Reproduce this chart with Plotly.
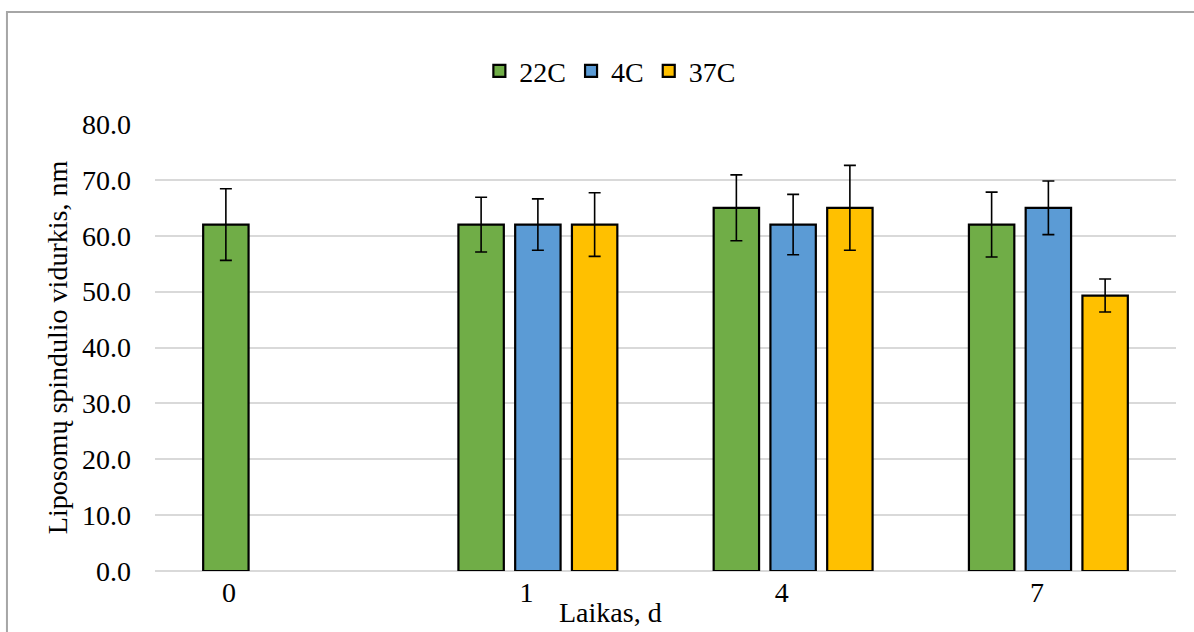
import plotly.graph_objects as go

categories = ["0", "1", "4", "7"]
series_names = ["22C", "4C", "37C"]
values_22C = [62.0, 62.0, 65.0, 62.0]
errors_22C = [6.4, 4.9, 5.9, 5.8]
values_4C = [None, 62.0, 62.0, 65.0]
errors_4C = [None, 4.6, 5.4, 4.8]
values_37C = [None, 62.0, 65.0, 49.3]
errors_37C = [None, 5.7, 7.6, 2.95]

colors = ["#70AD47", "#5B9BD5", "#FFC000"]
FONT = "Liberation Serif"

x_pos = list(range(len(categories)))
# tick label positions (as placed in the original chart)
tick_pos = [-0.21, 0.955, 1.955, 2.955]

fig = go.Figure()
for name, vals, errs, col in zip(series_names,
                                 [values_22C, values_4C, values_37C],
                                 [errors_22C, errors_4C, errors_37C],
                                 colors):
    fig.add_trace(go.Bar(
        x=x_pos, y=vals, name=name,
        marker=dict(color=col, line=dict(color="black", width=2.2)),
        error_y=dict(type="data", array=errs, visible=True,
                     color="black", thickness=1.6, width=6),
    ))

fig.update_layout(
    width=1194, height=632,
    margin=dict(l=155, r=18, t=124, b=61),
    paper_bgcolor="white", plot_bgcolor="white",
    barmode="group", bargap=0.333, bargroupgap=0.2,
    font=dict(family=FONT, size=28, color="black"),
    legend=dict(orientation="h", x=0.446, xanchor="center",
                y=1.174, yanchor="top", font=dict(family=FONT, size=28, color="black"),
                itemwidth=30, tracegroupgap=0),
    xaxis=dict(range=[-0.5, 3.5], tickmode="array", tickvals=tick_pos,
               ticktext=categories, showgrid=False, zeroline=False,
               showline=False, ticks="", tickfont=dict(family=FONT, size=28),
               ticklabelstandoff=2),
    yaxis=dict(range=[0, 80], dtick=10, tickformat=".1f",
               showgrid=True, gridcolor="#D9D9D9", gridwidth=1.5,
               zeroline=True, zerolinecolor="#D9D9D9", zerolinewidth=1.5,
               showline=False, ticks="", tickfont=dict(family=FONT, size=28),
               ticklabelstandoff=23,
               title=dict(text="Liposomų spindulio vidurkis, nm",
                          font=dict(family=FONT, size=28), standoff=6)),
    annotations=[dict(text="Laikas, d", xref="paper", yref="paper",
                      x=0.4457, y=-0.092, xanchor="center", yanchor="middle",
                      showarrow=False, font=dict(family=FONT, size=28))],
    shapes=[dict(type="rect", xref="paper", yref="paper",
                 x0=-0.145, y0=-0.3, x1=1.1, y1=1.2506,
                 line=dict(color="#A6A6A6", width=2), layer="below")],
)

fig.write_html("out.html", config={"displayModeBar": False},
               post_script="document.body.style.margin='0px';document.body.style.overflow='hidden';")
